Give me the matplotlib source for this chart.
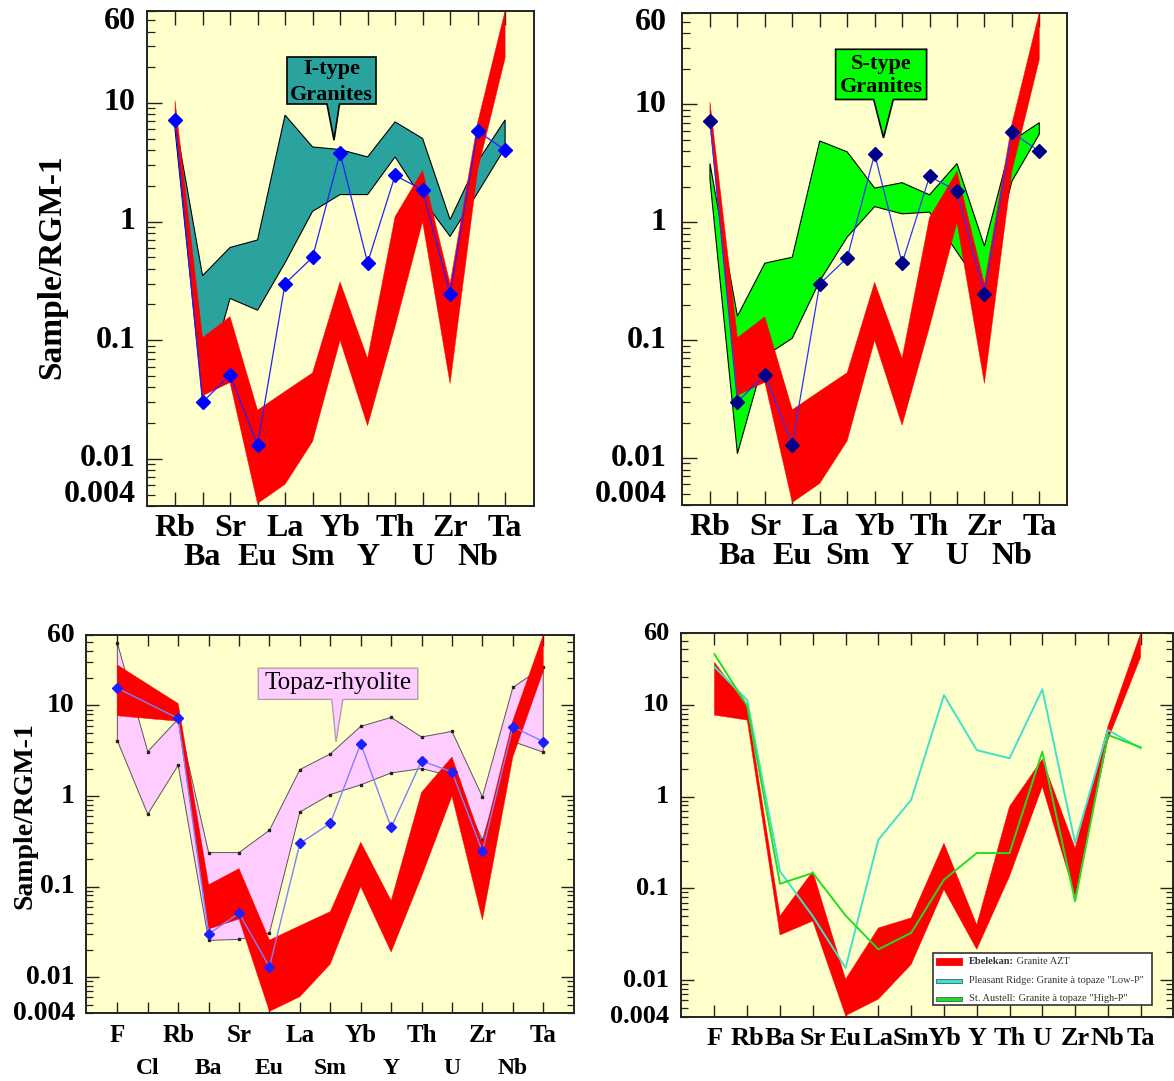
import matplotlib
matplotlib.use("Agg")
import matplotlib.pyplot as plt
import numpy as np
from matplotlib import transforms
from matplotlib.patches import Polygon, Rectangle
from matplotlib.ticker import FixedLocator, LogLocator, NullFormatter

# ---------------------------------------------------------------- data
elements = ["Rb", "Ba", "Sr", "Eu", "La", "Sm", "Yb", "Y", "Th", "U", "Zr", "Nb", "Ta"]
elements_halo = ["F", "Cl"] + elements
elements_br = ["F"] + elements

# Ebelekan granite AZT envelope (normalised to RGM-1)
azt_low = [6.7, 0.034, 0.044, 0.0042, 0.0061, 0.014, 0.10, 0.019, 0.13, 1.0, 0.043, 2.7, 24]
azt_high = [10.5, 0.105, 0.158, 0.0257, 0.037, 0.053, 0.31, 0.07, 1.1, 2.7, 0.30, 6.8, 60]
azt_F_low, azt_F_high = 7.7, 28

# same envelope as drawn in the F..Ta comparison diagram
azt2_low = [7.7, 6.8, 0.031, 0.044, 0.0041, 0.0062, 0.0148, 0.097, 0.0216, 0.135, 1.28, 0.082, 4.13, 33]
azt2_high = [29, 9.7, 0.050, 0.153, 0.0102, 0.037, 0.0476, 0.31, 0.040, 0.78, 2.55, 0.274, 5.8, 60]

# reference fields
itype_high = [7.2, 0.35, 0.605, 0.70, 7.9, 4.26, 4.05, 3.51, 6.93, 5.02, 1.04, 3.2, 7.2]
itype_low = [6.0, 0.033, 0.225, 0.179, 0.45, 1.22, 1.69, 1.69, 3.51, 1.54, 0.75, 1.75, 4.2]

stype_high = [3.15, 0.16, 0.45, 0.506, 4.9, 3.96, 1.95, 2.17, 1.71, 3.15, 0.63, 4.9, 7.0]
stype_low = [2.3, 0.0109, 0.073, 0.104, 0.318, 0.75, 1.36, 1.18, 1.22, 0.56, 0.256, 2.23, 5.6]

topaz_high = [49, 3.1, 7.1, 0.238, 0.238, 0.42, 1.96, 2.92, 5.88, 7.38, 4.49, 5.18, 0.98, 15.8, 26.8]
topaz_low = [4.1, 0.63, 2.19, 0.0255, 0.0262, 0.0307, 0.667, 1.04, 1.33, 1.80, 2.01, 1.66, 0.33, 4.0, 3.05]

# representative sample
sample = [7.2, 0.030, 0.051, 0.013, 0.30, 0.50, 3.8, 0.45, 2.45, 1.85, 0.245, 5.8, 4.0]
sample_F = 15.5

# topaz granites
pleasant_ridge = [25.9, 11.2, 0.153, 0.0496, 0.0136, 0.338, 0.92, 12.7, 3.2, 2.61, 14.7, 0.311, 5.3, 3.35]
st_austell = [35.6, 9.7, 0.112, 0.147, 0.0505, 0.0216, 0.0327, 0.124, 0.242, 0.242, 3.08, 0.0722, 4.68, 3.44]

ytick_vals = [0.004, 0.01, 0.1, 1, 10, 60]
ytick_text = ["0.004", "0.01", "0.1", "1", "10", "60"]

# ---------------------------------------------------------------- style
W, H = 1174, 1081
BG = "#ffffcc"
RED = "#ff0000"
TEAL = "#2aa39f"
GREEN = "#00ff00"
PINK = "#ffccff"
SERIF = ["Liberation Serif", "DejaVu Serif"]
EDGE = "#222222"

fig = plt.figure(figsize=(W / 100, H / 100), dpi=100)
fig.patch.set_facecolor("white")


def fpt(x, y):
    return (x / W, 1 - y / H)


def make_axes(l, t, r, b, xlim, right_ticks, ymaj, ymin, xlen):
    ax = fig.add_axes([l / W, 1 - b / H, (r - l) / W, (b - t) / H])
    ax.set_facecolor(BG)
    ax.set_yscale("log")
    ax.set_ylim(0.004, 60)
    ax.set_xlim(*xlim)
    for s in ax.spines.values():
        s.set_linewidth(1.4)
        s.set_color(EDGE)
    ax.yaxis.set_major_locator(FixedLocator([0.01, 0.1, 1, 10]))
    ax.yaxis.set_minor_locator(LogLocator(base=10, subs=np.arange(2, 10), numticks=30))
    ax.yaxis.set_major_formatter(NullFormatter())
    ax.yaxis.set_minor_formatter(NullFormatter())
    ax.tick_params(axis="y", which="major", direction="in", left=True, right=right_ticks,
                   length=ymaj, width=1.0, color=EDGE, labelleft=False)
    ax.tick_params(axis="y", which="minor", direction="in", left=True, right=right_ticks,
                   length=ymin, width=0.9, color=EDGE)
    ax.tick_params(axis="x", which="both", direction="in", top=True, bottom=True,
                   length=xlen, width=1.0, color=EDGE, labelbottom=False)
    return ax


def y_labels(ax, fs, gap, shift):
    trans = transforms.blended_transform_factory(ax.transAxes, ax.transData)
    for v, s in zip(ytick_vals, ytick_text):
        dy = 0
        if v == 60:
            dy = -shift
        elif v == 0.004:
            dy = shift
        off = transforms.offset_copy(trans, fig=fig, x=-gap, y=dy, units="dots")
        ax.text(0, v, s, transform=off, ha="right", va="center", fontsize=fs,
                fontweight="bold", family=SERIF)


def x_labels(ax, labels, fs1, fs2, off1, off2, two_rows=True):
    ax.set_xticks(range(len(labels)))
    trans = transforms.blended_transform_factory(ax.transData, ax.transAxes)
    for i, lab in enumerate(labels):
        second = two_rows and i % 2 == 1
        off = transforms.offset_copy(trans, fig=fig, x=0, y=-(off2 if second else off1), units="dots")
        ax.text(i, 0, lab, transform=off, ha="center", va="baseline",
                fontsize=fs2 if second else fs1, fontweight="bold", family=SERIF)


def band(ax, x, low, high, face, edge=None, lw=0.0, z=1, markers=False):
    x = list(x)
    xs = x + x[::-1]
    ys = list(high) + list(low)[::-1]
    if edge is None:
        ax.fill(xs, ys, facecolor=face, edgecolor=face, lw=0.3, zorder=z)
    else:
        ax.fill(xs, ys, facecolor=face, edgecolor=edge, lw=lw, zorder=z)
    if markers:
        ax.plot(x, high, ls="none", marker="s", ms=1.6, color="#222222", zorder=z + 0.1)
        ax.plot(x, low, ls="none", marker="s", ms=1.6, color="#222222", zorder=z + 0.1)


def callout(box, base, tip, face, edge, lw):
    l, t, r, b = box
    b1, b2 = base
    pts = [(l, t), (r, t), (r, b), (b2, b), tip, (b1, b), (l, b)]
    poly = Polygon([fpt(*p) for p in pts], closed=True, transform=fig.transFigure,
                   facecolor=face, edgecolor=edge, lw=lw, zorder=5)
    fig.add_artist(poly)


idx = np.arange(len(elements))

# ---------------------------------------------------------------- I-type panel
ax1 = make_axes(146.7, 10.7, 534, 506, (-1.03, 13.05), False, 10.8, 5.8, 10)
band(ax1, idx, itype_low, itype_high, TEAL, edge="black", lw=0.8, z=1)
band(ax1, idx, azt_low, azt_high, RED, z=2)
ax1.plot(idx, sample, color="#2020ff", lw=0.9, marker="D", ms=7, mfc="#0000ff",
         mec="#0000ff", zorder=3)
y_labels(ax1, 23, 11, 11)
x_labels(ax1, elements, 23, 23, 30, 58.7)
fig.text(*fpt(52, 267), "Sample/RGM-1", rotation=90, ha="center", va="center",
         fontsize=24, fontweight="bold", family=SERIF)
callout((287, 57, 376, 104), (327, 339.5), (334, 140.2), TEAL, "black", 1.2)
fig.text(*fpt(331.5, 73.6), "I-type", ha="center", va="baseline", fontsize=16,
         fontweight="bold", family=SERIF, zorder=6)
fig.text(*fpt(331.5, 99.5), "Granites", ha="center", va="baseline", fontsize=16,
         fontweight="bold", family=SERIF, zorder=6)

# ---------------------------------------------------------------- S-type panel
ax2 = make_axes(681.7, 12.7, 1067.3, 505, (-1.03, 13.02), False, 10.8, 5.8, 10)
band(ax2, idx, stype_low, stype_high, GREEN, edge="black", lw=0.8, z=1)
band(ax2, idx, azt_low, azt_high, RED, z=2)
ax2.plot(idx, sample, color="#3030ff", lw=0.9, marker="D", ms=7, mfc="#000088",
         mec="#000088", zorder=3)
y_labels(ax2, 23, 15, 10)
x_labels(ax2, elements, 23, 23, 30, 58.7)
callout((835.6, 49.3, 926.6, 99.5), (873.7, 893.3), (883.5, 137.9), GREEN, "black", 1.2)
fig.text(*fpt(881, 68.8), "S-type", ha="center", va="baseline", fontsize=16,
         fontweight="bold", family=SERIF, zorder=6)
fig.text(*fpt(881, 92.1), "Granites", ha="center", va="baseline", fontsize=16,
         fontweight="bold", family=SERIF, zorder=6)

# ---------------------------------------------------------------- topaz rhyolite panel
ax3 = make_axes(85.7, 635, 574, 1013.3, (-1.04, 15.01), True, 9.1, 5.3, 8)
idx3 = np.arange(len(elements_halo))
band(ax3, idx3, topaz_low, topaz_high, PINK, edge="#555555", lw=0.7, z=1, markers=True)
x_red = [0] + list(idx + 2)
band(ax3, x_red, [azt_F_low] + azt_low, [azt_F_high] + azt_high, RED, z=2)
ax3.plot(x_red, [sample_F] + sample, color="#8080ff", lw=1.0, marker="D", ms=4.8,
         mfc="#1e1eff", mec="#1e1eff", zorder=3)
y_labels(ax3, 20, 11, 0)
x_labels(ax3, elements_halo, 18, 17, 29, 60.5)
fig.text(*fpt(25, 816), "Sample/RGM-1", rotation=90, ha="center", va="center",
         fontsize=20, fontweight="bold", family=SERIF)
callout((258.3, 668.2, 417.8, 699.4), (331.8, 342.9), (336, 741.9), PINK, "#b0a0b0", 1.0)
fig.text(*fpt(338, 688.8), "Topaz-rhyolite", ha="center", va="baseline", fontsize=18,
         family=SERIF, zorder=6)

# ---------------------------------------------------------------- topaz granite comparison
ax4 = make_axes(681, 633.3, 1172.8, 1016.6, (-1.02, 13.98), True, 9.4, 5.0, 8.4)
idx4 = np.arange(len(elements_br))
band(ax4, idx4, azt2_low, azt2_high, RED, z=2)
ax4.plot(idx4, pleasant_ridge, color="#40e0d0", lw=1.4, zorder=3)
ax4.plot(idx4, st_austell, color="#22dd22", lw=1.4, zorder=3)
y_labels(ax4, 19, 12, 0)
x_labels(ax4, elements_br, 19, 19, 28.4, 28.4, two_rows=False)

# legend box
lx0, ly0, lx1, ly1 = 932.7, 953.3, 1151.7, 1005
fig.add_artist(Rectangle(fpt(lx0, ly1), (lx1 - lx0) / W, (ly1 - ly0) / H,
                         transform=fig.transFigure, facecolor="white",
                         edgecolor="#333333", lw=1.2, zorder=5))
entries = [
    ("Ebelekan:", " Granite AZT", RED, 961, 7),
    ("Pleasant Ridge:", " Granite \u00e0 topaze \"Low-P\"", "#40e0d0", 980.5, 4),
    ("St. Austell:", " Granite \u00e0 topaze \"High-P\"", "#22dd22", 998.5, 4),
]
renderer = fig.canvas.get_renderer()
for i, (head, tail, col, yc, hh) in enumerate(entries):
    fig.add_artist(Rectangle(fpt(936, yc + hh / 2), 26 / W, hh / H, transform=fig.transFigure,
                             facecolor=col, edgecolor=col if i == 0 else "#336666",
                             lw=0.6, zorder=6))
    t1 = fig.text(*fpt(969.3, yc), head, ha="left", va="center", fontsize=7.5,
                  fontweight="bold" if i == 0 else "normal", family=SERIF,
                  color="#333333", zorder=6)
    bb = t1.get_window_extent(renderer=renderer)
    fig.text(bb.x1 / W, 1 - yc / H, tail, ha="left", va="center", fontsize=7.5,
             family=SERIF, color="#333333", zorder=6)

fig.savefig("out.png", dpi=100, facecolor="white")
